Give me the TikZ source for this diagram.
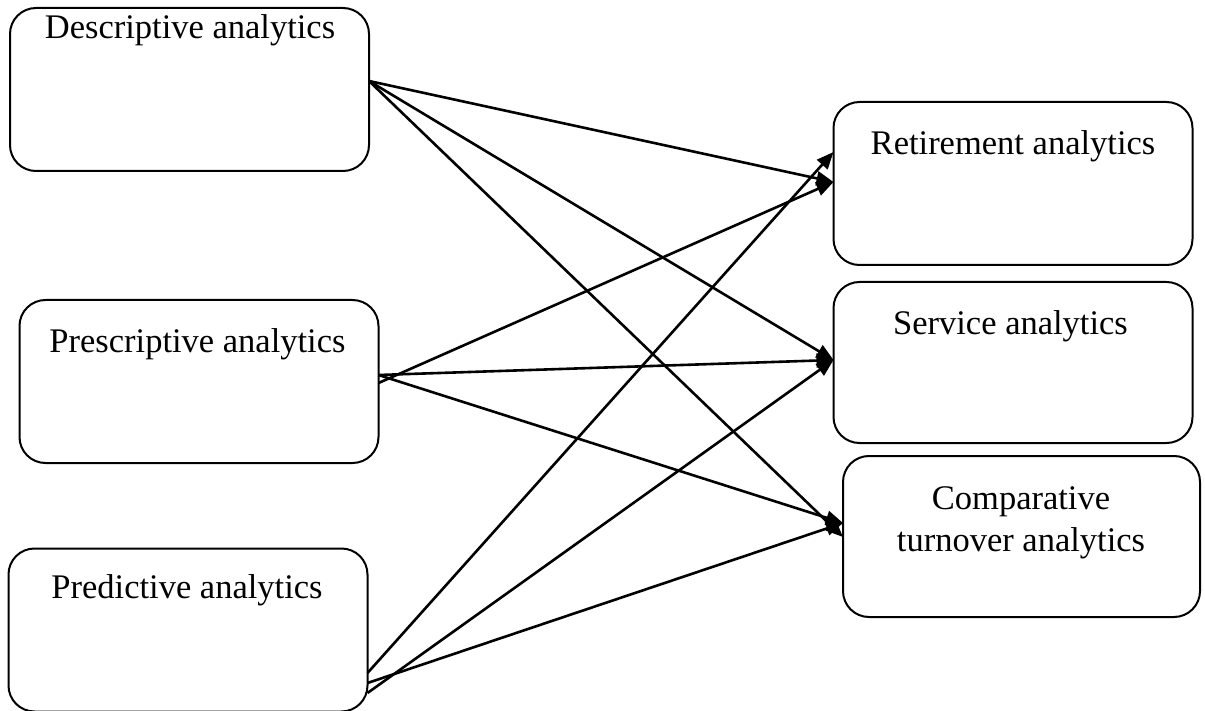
\documentclass[tikz,border=0pt]{standalone}
\usepackage{fontspec}
\setmainfont{Liberation Serif}
\usetikzlibrary{arrows.meta}
\begin{document}
\begin{tikzpicture}[x=1pt,y=-1pt,
  box/.style={draw=black, line width=2pt, rounded corners=26pt,
    minimum width=359pt, minimum height=163pt, inner sep=0pt, outer sep=0pt},
  lbl/.style={font=\fontsize{34.5pt}{41.5pt}\selectfont, inner sep=0pt, align=center},
  link/.style={line width=2.6pt, -{Triangle[length=17pt,width=14pt]}}]
\useasboundingbox (0,0) rectangle (1205,711);

% left column: analytics types
\node[box] (desc) at (189.5,89.5) {};
\node[box] (presc) at (199,381.5) {};
\node[box] (pred) at (188,630) {};

% right column: HR analytics areas
\node[box] (ret) at (1013,183.5) {};
\node[box, minimum height=161pt] (serv) at (1013,362.5) {};
\node[box, minimum height=161pt, minimum width=357pt] (comp) at (1021.5,536.5) {};

% box titles
\node[lbl] (tdesc) at (190,30) {Descriptive analytics};
\node[lbl] (tpresc) at (197.5,344) {Prescriptive analytics};
\node[lbl] (tpred) at (187,590) {Predictive analytics};
\node[lbl] (tret) at (1013,146) {Retirement analytics};
\node[lbl] (tserv) at (1010.5,326) {Service analytics};
\node[lbl] (tcomp) at (1021,523) {Comparative\\turnover analytics};

% descriptive links
\draw[link] ([yshift=8.5pt]desc.east) -- ([yshift=1.5pt]ret.west);
\draw[link] ([yshift=8.5pt]desc.east) -- ([yshift=2.5pt]serv.west);
\draw[link] ([yshift=8.5pt]desc.east) -- ([yshift=-0.5pt]comp.west);

% prescriptive links
\draw[link] ([yshift=-1.5pt]presc.east) -- ([yshift=1.5pt]ret.west);
\draw[link] ([yshift=6.5pt]presc.east) -- ([yshift=2.5pt]serv.west);
\draw[link] ([yshift=6.5pt]presc.east) -- ([yshift=13.5pt]comp.west);

% predictive links
\draw[link] ([yshift=-43pt]pred.east) -- ([yshift=31.5pt]ret.west);
\draw[link] ([yshift=-63pt]pred.east) -- ([yshift=2.5pt]serv.west);
\draw[link] ([yshift=-53pt]pred.east) -- ([yshift=13.5pt]comp.west);
\end{tikzpicture}
\end{document}
